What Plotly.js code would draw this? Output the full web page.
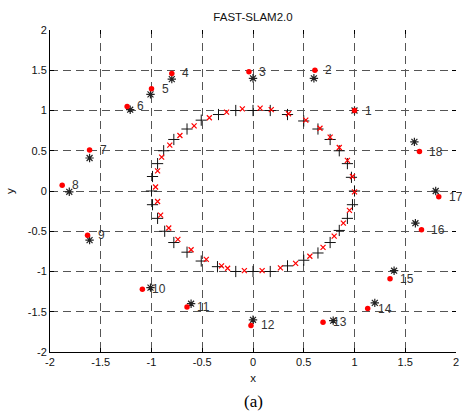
<!DOCTYPE html>
<html>
<head>
<meta charset="utf-8">
<script src="https://cdn.plot.ly/plotly-3.0.1.min.js"></script>
<style>html,body{margin:0;padding:0;background:#fff;}#chart{width:462px;height:419px;}</style>
</head>
<body>
<div id="chart"></div>
<script>
// Landmarks: true (red dots) and estimated (black asterisks)
const landmarkIds = ['1','2','3','4','5','6','7','8','9','10','11','12','13','14','15','16','17','18'];
const lmTrueX = [1.0, 0.61, -0.04, -0.80, -1.0, -1.24, -1.61, -1.88, -1.63, -1.09, -0.65, -0.02, 0.69, 1.13, 1.35, 1.66, 1.83, 1.64];
const lmTrueY = [1.0, 1.50, 1.48, 1.46, 1.27, 1.05, 0.51, 0.07, -0.55, -1.22, -1.44, -1.67, -1.63, -1.46, -1.09, -0.48, -0.07, 0.49];
const lmEstX = [1.0, 0.60, 0.0, -0.80, -1.01, -1.21, -1.61, -1.81, -1.61, -1.01, -0.61, 0.0, 0.79, 1.20, 1.39, 1.60, 1.80, 1.59];
const lmEstY = [1.0, 1.40, 1.40, 1.39, 1.20, 1.01, 0.41, -0.01, -0.61, -1.20, -1.40, -1.60, -1.61, -1.39, -0.99, -0.40, 0.0, 0.61];

// Robot path: estimated (black +) and true (red x)
const pathEstX = [1.0, 0.97, 0.93, 0.85, 0.76, 0.64, 0.50, 0.34, 0.17, 0.0, -0.17, -0.34, -0.51, -0.65, -0.78, -0.88, -0.94, -0.99, -1.0, -0.99, -0.94, -0.87, -0.78, -0.65, -0.51, -0.35, -0.17, 0.0, 0.17, 0.34, 0.50, 0.64, 0.76, 0.85, 0.93, 0.98];
const pathEstY = [0.0, 0.17, 0.34, 0.50, 0.64, 0.77, 0.87, 0.95, 1.0, 1.0, 1.0, 0.95, 0.88, 0.77, 0.64, 0.50, 0.34, 0.18, 0.0, -0.17, -0.34, -0.50, -0.64, -0.76, -0.87, -0.94, -1.0, -1.0, -1.0, -0.93, -0.86, -0.77, -0.64, -0.49, -0.34, -0.17];
const pathTrueX = [1.0, 0.98, 0.93, 0.85, 0.76, 0.66, 0.52, 0.35, 0.18, 0.07, -0.105, -0.26, -0.43, -0.58, -0.72, -0.82, -0.90, -0.94, -0.96, -0.94, -0.91, -0.83, -0.74, -0.61, -0.46, -0.31, -0.25, -0.085, 0.09, 0.27, 0.42, 0.56, 0.69, 0.80, 0.89, 0.95];
const pathTrueY = [-0.01, 0.18, 0.38, 0.54, 0.67, 0.78, 0.88, 0.96, 1.01, 1.03, 1.02, 0.98, 0.91, 0.81, 0.69, 0.57, 0.42, 0.25, 0.05, -0.13, -0.30, -0.46, -0.60, -0.73, -0.85, -0.93, -0.96, -0.99, -0.99, -0.955, -0.90, -0.81, -0.70, -0.56, -0.40, -0.24];

const tickVals = [-2, -1.5, -1, -0.5, 0, 0.5, 1, 1.5, 2];
const tickText = ['-2', '-1.5', '-1', '-0.5', '0', '0.5', '1', '1.5', '2'];

const FONT = 'Liberation Sans, Arial, Helvetica, sans-serif';

const traces = [
  {x: pathEstX, y: pathEstY, type: 'scatter', mode: 'markers', hoverinfo: 'skip',
   marker: {symbol: 'cross-thin-open', size: 8, color: '#111', line: {width: 1, color: '#111'}}},
  {x: pathTrueX, y: pathTrueY, type: 'scatter', mode: 'markers', hoverinfo: 'skip',
   marker: {symbol: 'x-thin-open', size: 5, color: '#ff0000', line: {width: 1.2, color: '#ff0000'}}},
  {x: lmEstX, y: lmEstY, type: 'scatter', mode: 'markers', hoverinfo: 'skip',
   marker: {symbol: 'asterisk-open', size: 7, color: '#222', line: {width: 1.2, color: '#222'}}},
  {x: lmTrueX, y: lmTrueY, type: 'scatter', mode: 'markers', hoverinfo: 'skip',
   marker: {symbol: 'circle', size: 5.5, color: '#ff0000', line: {width: 0}}},
  // invisible trace carrying the mirrored tick axes
  {x: [0], y: [0], xaxis: 'x2', yaxis: 'y2', type: 'scatter', mode: 'markers', hoverinfo: 'skip',
   marker: {opacity: 0}}
];

const annotations = landmarkIds.map((t, i) => ({
  x: lmTrueX[i], y: lmTrueY[i], xref: 'x', yref: 'y', text: t, showarrow: false,
  xanchor: 'left', yanchor: 'middle', xshift: 8,
  font: {family: FONT, size: 12, color: '#333'}
}));
annotations.push({
  x: 0.5, y: -0.155, xref: 'paper', yref: 'paper', text: '(a)', showarrow: false,
  xanchor: 'center', yanchor: 'middle',
  font: {family: 'Liberation Serif, Times New Roman, serif', size: 17, color: '#000'}
});

const gridStyle = {showgrid: true, gridcolor: '#555', gridwidth: 1, griddash: '8px,5px'};

const layout = {
  width: 462, height: 419,
  margin: {l: 50, r: 6, t: 30, b: 67},
  paper_bgcolor: '#fff', plot_bgcolor: '#fff',
  showlegend: false,
  title: {text: 'FAST-SLAM2.0', x: 0.5, xref: 'paper', xanchor: 'center', y: 0.96, yanchor: 'middle',
          font: {family: FONT, size: 11.5, color: '#111'}},
  xaxis: Object.assign({
    range: [-2, 2], tickmode: 'array', tickvals: tickVals, ticktext: tickText,
    ticks: 'inside', ticklen: 4, tickcolor: '#000', showline: true, linecolor: '#000', linewidth: 1,
    zeroline: false, tickfont: {family: FONT, size: 11, color: '#111'},
    title: {text: 'x', font: {family: FONT, size: 11.5, color: '#111'}, standoff: 6}
  }, gridStyle),
  yaxis: Object.assign({
    range: [-2, 2], tickmode: 'array', tickvals: tickVals, ticktext: tickText,
    ticks: 'inside', ticklen: 4, tickcolor: '#000', showline: true, linecolor: '#000', linewidth: 1,
    zeroline: false, tickfont: {family: FONT, size: 11, color: '#111'},
    title: {text: 'y', font: {family: FONT, size: 11.5, color: '#111'}, standoff: 10}
  }, gridStyle),
  xaxis2: {range: [-2, 2], overlaying: 'x', side: 'top', tickmode: 'array', tickvals: tickVals,
    ticks: 'inside', ticklen: 4, tickcolor: '#000', showticklabels: false, showgrid: false,
    zeroline: false, showline: false},
  yaxis2: {range: [-2, 2], overlaying: 'y', side: 'right', tickmode: 'array', tickvals: tickVals,
    ticks: 'inside', ticklen: 4, tickcolor: '#000', showticklabels: false, showgrid: false,
    zeroline: false, showline: false},
  annotations: annotations
};

Plotly.newPlot('chart', traces, layout, {staticPlot: true, displayModeBar: false});
</script>
</body>
</html>
